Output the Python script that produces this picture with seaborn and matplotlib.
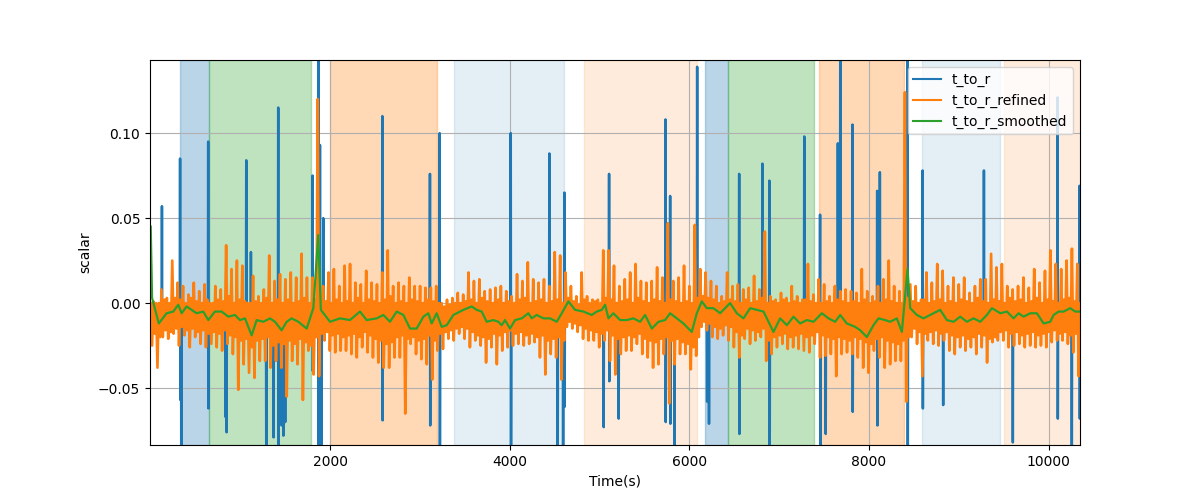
import numpy as np
import pandas as pd
import matplotlib
matplotlib.use("Agg")
import matplotlib.pyplot as plt
import seaborn as sns

# ---------------- data (values in 1e-3 units) ----------------
# shaded phases
span_start = [325, 652, 2000, 3378, 4827, 6175, 6424, 7445, 8593, 9506]
span_end = [652, 1782, 3185, 4600, 6082, 6424, 7386, 8395, 9462, 10400]
span_color = ["C0", "C2", "C1", "C0", "C1", "C0", "C2", "C1", "C0", "C1"]
span_alpha = [0.3, 0.3, 0.3, 0.12, 0.15, 0.3, 0.3, 0.3, 0.12, 0.15]

# t_to_r : baseline with spikes (time, upper excursion, lower excursion)
blue_base = -8
blue_t = [125, 327, 340, 640, 830, 842, 1064, 1116, 1284, 1365, 1420, 1455, 1475,
          1495, 1803, 1866, 1885, 1900, 1922, 2580, 3110, 3218, 4010, 4440, 4530,
          4590, 4607, 5042, 5105, 5209, 5733, 5785, 5830, 6086, 6194, 6215, 6554,
          6813, 6891, 7279, 7455, 7515, 7653, 7680, 7816, 8091, 8121, 8429, 8597,
          8823, 9280, 9599, 10100, 10256, 10345]
blue_up = [57, 85, None, 95, None, None, 84, 30, None, None, 115, None, None,
           None, 75, 160, 93, None, 50, 110, 76, 100, 100, 88, None,
           None, 65, None, 76, None, 108, 63, None, 139, None, None, 76,
           82, 72, 98, 52, None, 94, 160, 105, 66, 77, 160, 78,
           None, 78, None, 121, None, 69]
blue_dn = [None, -57, -95, -62, -67, -76, None, None, -95, -79, -95, -72, -78,
           -70, -40, -95, None, -95, None, -69, -72, -95, -95, None, -95,
           -95, -61, -73, -46, -68, -70, -71, -95, None, -58, -71, -77,
           None, -95, None, -95, -77, None, None, -64, -72, None, -95, -62,
           -60, None, -82, -68, -95, -68]

# t_to_r_refined : per 60 s window, outer high / low and core-band high / low
orange_step = 60
orange_hi = [0, 0, 8, 3, 25, 12, 10, 5, 12, 7, 11, 0, 10, 8, 34, 20, 25, 22, 0, 16, 4, 8, 28, 13, 17,
             14, 18, 15, 29, 15, 15, 120, 10, 18, 20, 10, 22, 23, 12, 11, 19, 12, 11, 18, 31, 10, 12, 10, 15, 10,
             10, 9, 9, 10, 0, 2, 3, 6, 5, 18, 13, 14, 7, 8, 9, 10, 7, 4, 17, 13, 24, 14, 12, 14, 10,
             30, 28, 18, 10, 4, 18, 4, 2, 2, 31, 31, 22, 10, 14, 18, 23, 13, 12, 13, 21, 15, 47, 13, 15,
             22, 10, 46, 20, 18, 13, 10, 4, 18, 10, 11, 8, 9, 16, 8, 42, 4, 2, 6, 3, 10, 4, 2, 23, 5,
             14, 11, 4, 10, 7, 8, 7, 6, 20, 7, 4, 10, 14, 25, 10, 7, 124, 11, 10, 2, 18, 12, 23, 19, 10,
             15, 11, 15, 6, 10, 14, 14, 29, 21, 23, 10, 8, 10, 15, 9, 20, 12, 19, 31, 23, 20, 25, 32, 23]
orange_lo = [-25, -38, -20, -21, -18, -25, -19, -26, -20, -24, -26, -24, -26, -28, -24, -30, -51, -36, -41, -44, -34, -34, -38, -34, -38,
             -55, -34, -36, -57, -28, -42, -43, -22, -28, -29, -28, -28, -30, -32, -26, -29, -32, -35, -38, -38, -32, -32, -65, -24, -30,
             -33, -36, -45, -28, -27, -21, -22, -18, -21, -26, -22, -25, -35, -26, -36, -28, -26, -25, -24, -25, -24, -23, -32, -42, -30,
             -32, -45, -14, -15, -17, -21, -22, -22, -26, -22, -34, -42, -30, -28, -28, -24, -30, -32, -38, -36, -30, -59, -36, -30,
             -30, -39, -31, -14, -16, -20, -21, -19, -22, -26, -32, -21, -24, -22, -20, -34, -30, -26, -24, -27, -26, -27, -28, -29, -24,
             -32, -31, -30, -43, -30, -29, -30, -32, -38, -41, -28, -32, -38, -36, -34, -34, -58, -20, -24, -43, -22, -24, -25, -22, -28,
             -30, -26, -28, -26, -30, -26, -35, -23, -22, -22, -26, -25, -24, -26, -25, -26, -25, -26, -23, -22, -22, -24, -29, -43]
orange_core_hi = [1, 0, 2, 0, 3,
                  2, 0, 3, 1, 0, 2,
                  0, 2, 1, 4, 0, 2, 1,
                  0, 1, 0, 3, 0, 2, 0,
                  2, 0, 1, 3, 0, 2,
                  5, 1, 0, 2, 0,
                  1, 0, 3, 0, 2, 1, 0, 2, 4, 0, 1, 0, 2, 1,
                  0, 2, 1, 0, -2, -1, 0,
                  0, 1, 2, 0, 3, 1, 0, 2, 0, 1, 0, 2, 3, 0, 1, 2, 0, 1,
                  2, 0, 3, 1, -1, 2,
                  0, 1, 0, 3, 2, 0, 1, 2, 0, 3, 1, 0, 2, 1, 0, 2, 1, 0,
                  1, 0, 3,
                  4, 3, 2, 0, 1,
                  2, 1, 0, 2, 0, 1, 3, 0, 1, 0, 2, 0, 1, 0, 2, 1, 0,
                  0, 1, 0, 2, 1, 0, 1, 0, 2, 0, 1, 0, 2, 1, 0, 0, 3,
                  1, 0, 2, 0, 1, 2, 0, 1,
                  0, 2, 1, 0, 3, 1, 0, 2, 1, 0, 3, 1, 2, 0, 1, 3, 0, 2, 1, 0, 2, 3, 1, 0]
orange_core_lo = [-18, -20, -16, -17, -15,
                  -14, -16, -15, -17, -16, -18,
                  -17, -18, -16, -19, -20, -22, -21,
                  -26, -22, -21, -20, -25, -23, -24,
                  -22, -24, -21, -23, -25, -20,
                  -18, -17, -19, -18, -20,
                  -19, -18, -20, -17, -19, -21, -22, -24, -23, -20, -19, -21, -20, -22,
                  -21, -19, -22, -18, -17, -16, -15,
                  -14, -15, -17, -19, -20, -21, -18, -19, -17, -16, -18, -17, -19, -18, -20, -19, -22, -21,
                  -20, -22, -11, -12, -13, -15,
                  -16, -17, -18, -16, -19, -21, -20, -19, -20, -18, -21, -22, -23, -21, -20, -22, -21, -23,
                  -24, -26, -20,
                  -11, -12, -14, -15, -13,
                  -14, -17, -19, -15, -16, -17, -15, -22, -20, -19, -18, -20, -19, -18, -20, -19, -17,
                  -19, -20, -21, -20, -21, -22, -20, -21, -23, -24, -21, -20, -22, -23, -24, -22, -20,
                  -15, -17, -18, -17, -16, -18, -17, -19,
                  -20, -19, -21, -20, -18, -19, -21, -20, -17, -16, -18, -17, -19, -18, -17, -19, -18, -17, -16, -18, -17, -19, -18, -20]

# t_to_r_smoothed
green_t = [0, 15, 90, 177, 251, 307, 344, 400, 455, 511, 585, 641, 715, 790, 864, 938, 994, 1050,
           1124, 1180, 1254, 1328, 1384, 1458, 1514, 1569, 1644, 1737, 1811, 1866, 1895, 1997,
           2108, 2219, 2331, 2405, 2517, 2591, 2665, 2740, 2814, 2888, 2962, 3037, 3092, 3129,
           3185, 3241, 3297, 3371, 3482, 3575, 3631, 3686, 3742, 3816, 3872, 3909, 3946, 4002,
           4058, 4132, 4206, 4244, 4299, 4374, 4448, 4522, 4578, 4652, 4726, 4819, 4912, 4968,
           5024, 5061, 5098, 5153, 5228, 5302, 5376, 5451, 5506, 5581, 5655, 5729, 5785, 5859,
           5933, 6026, 6082, 6138, 6193, 6267, 6342, 6398, 6453, 6528, 6602, 6676, 6751, 6825,
           6936, 7010, 7085, 7159, 7233, 7308, 7382, 7475, 7549, 7623, 7679, 7753, 7846, 7902,
           7976, 8050, 8106, 8180, 8236, 8310, 8366, 8429, 8459, 8533, 8607, 8682, 8793, 8867,
           8942, 9016, 9090, 9165, 9239, 9313, 9369, 9462, 9536, 9610, 9666, 9722, 9796, 9870,
           9945, 10019, 10056, 10112, 10167, 10241, 10297, 10353]
green_v = [45, 3, -12, -6, -5, -1, -6, -2, -4, -6, -5, -10, -5, -5, -8, -7, -10, -9,
           -19, -10, -11, -9, -11, -16, -11, -9, -11, -15, -3, 40, -4, -11,
           -9, -10, -5, -10, -9, -7, -11, -5, -7, -15, -15, -8, -6, -12,
           -6, -14, -13, -7, -4, -2, -4, -5, -11, -10, -11, -13, -10, -15,
           -10, -9, -6, -9, -7, -9, -9, -11, -6, 1, -4, -5, -7, -5,
           -4, -1, -9, -6, -10, -10, -9, -11, -7, -15, -11, -10, -6, -9,
           -12, -17, -6, 1, -3, -3, -6, -3, 0, -6, -9, -3, -4, -5,
           -17, -9, -13, -8, -12, -10, -11, -6, -9, -11, -7, -12, -14, -16,
           -20, -13, -9, -10, -11, -9, -17, 20, -3, -7, -9, -7, -4, -10,
           -11, -8, -11, -9, -11, -7, -3, -6, -5, -9, -6, -8, -6, -6,
           -12, -11, -7, -5, -5, -3, -5, -5]

x_ticks = [2000, 4000, 6000, 8000, 10000]
y_ticks = [-0.05, 0.0, 0.05, 0.10]
y_labels = ["\u22120.05", "0.00", "0.05", "0.10"]

# ---------------- build series ----------------
bt, bv = [0], [blue_base]
for t, u, d in zip(blue_t, blue_up, blue_dn):
    bt += [t - 3, t, t + 3, t + 6]
    bv += [blue_base, blue_base if u is None else u,
           blue_base if d is None else d, blue_base]
bt.append(10400)
bv.append(blue_base)
df_blue = pd.DataFrame({"t": bt, "v": np.array(bv, dtype=float) * 1e-3})

n = len(orange_hi)
t0 = np.arange(n) * orange_step
q = orange_step / 4
df_orange = pd.DataFrame({
    "t": np.column_stack([t0, t0 + q, t0 + 2 * q, t0 + 3 * q]).ravel(),
    "v": np.column_stack([orange_hi, orange_lo, orange_core_hi, orange_core_lo]).ravel() * 1e-3,
})
df_green = pd.DataFrame({"t": green_t, "v": np.array(green_v, dtype=float) * 1e-3})

# ---------------- plot ----------------
fig, ax = plt.subplots(figsize=(12, 5), dpi=100)

for s, e, c, a in zip(span_start, span_end, span_color, span_alpha):
    ax.axvspan(s, e, color=c, alpha=a)

sns.lineplot(data=df_blue, x="t", y="v", ax=ax, color="C0", label="t_to_r",
             estimator=None, sort=False, linewidth=1.8)
sns.lineplot(data=df_orange, x="t", y="v", ax=ax, color="C1", label="t_to_r_refined",
             estimator=None, sort=False, linewidth=1.9)
sns.lineplot(data=df_green, x="t", y="v", ax=ax, color="C2", label="t_to_r_smoothed",
             estimator=None, sort=False, linewidth=1.6)

ax.set_xlim(-8, 10350)
ax.set_ylim(-0.0835, 0.143)
ax.set_xticks(x_ticks)
ax.set_yticks(y_ticks)
ax.set_xticklabels([str(t) for t in x_ticks])
ax.set_yticklabels(y_labels)
ax.grid(True)
ax.set_xlabel("Time(s)")
ax.set_ylabel("scalar")
leg = ax.legend(loc="upper right")
for line in leg.get_lines():
    line.set_linewidth(1.5)

fig.savefig("out.png", dpi=100)
